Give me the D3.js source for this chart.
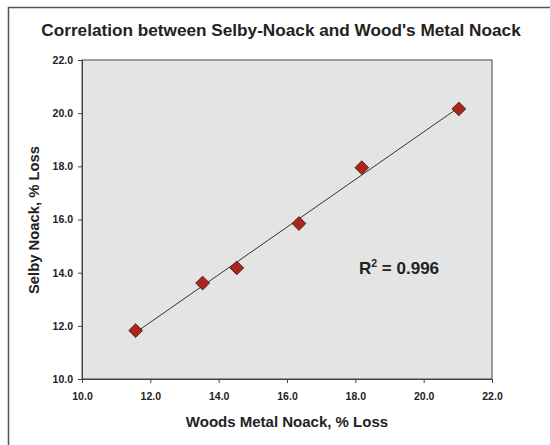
<!DOCTYPE html>
<html><head><meta charset="utf-8">
<script src="https://cdn.jsdelivr.net/npm/d3@7"></script>
<style>body{margin:0;background:#fff}svg{display:block;font-family:Arial,"Liberation Sans",sans-serif}</style>
</head><body><svg id="c" width="550" height="445"></svg>
<script>
const woodsNoack = [11.57, 13.53, 14.53, 16.35, 18.19, 21.03];
const selbyNoack = [11.82, 13.61, 14.18, 15.85, 17.95, 20.16];
const tickValues = [10, 12, 14, 16, 18, 20, 22];
const title = "Correlation between Selby-Noack and Wood's Metal Noack";
const xTitle = "Woods Metal Noack, % Loss";
const yTitle = "Selby Noack, % Loss";
const r2Label = "0.996";

const svg = d3.select("#c");
const L = 82, R = 492, T = 60, B = 379;
const x = d3.scaleLinear().domain([10, 22]).range([L, R]);
const y = d3.scaleLinear().domain([10, 22]).range([B, T]);

// outer frame
svg.append("path").attr("d", "M8.5,445 L8.5,7.5 L550,7.5").attr("fill", "none").attr("stroke", "#555").attr("stroke-width", 1.5);

svg.append("text").attr("x", 281).attr("y", 36).attr("text-anchor", "middle")
  .attr("font-size", 17.2).attr("font-weight", "bold").attr("fill", "#222").text(title);

svg.append("rect").attr("x", L).attr("y", T).attr("width", R - L).attr("height", B - T)
  .attr("fill", "#e4e4e4").attr("stroke", "#444").attr("stroke-width", 1);

const fmt = d3.format(".1f");
const gx = svg.append("g").attr("transform", `translate(0,${B})`)
  .call(d3.axisBottom(x).tickValues(tickValues).tickFormat(fmt).tickSize(4).tickPadding(10));
const gy = svg.append("g").attr("transform", `translate(${L},0)`)
  .call(d3.axisLeft(y).tickValues(tickValues).tickFormat(fmt).tickSize(4).tickPadding(5));
[gx, gy].forEach(g => {
  g.select(".domain").attr("stroke", "#444");
  g.selectAll(".tick line").attr("stroke", "#444");
  g.selectAll("text").attr("font-size", 10.5).attr("font-weight", "bold").attr("fill", "#222")
    .attr("font-family", "Arial, 'Liberation Sans', sans-serif");
});

// linear trend line
const n = woodsNoack.length;
const mx = d3.mean(woodsNoack), my = d3.mean(selbyNoack);
let sxy = 0, sxx = 0;
for (let i = 0; i < n; i++) { sxy += (woodsNoack[i] - mx) * (selbyNoack[i] - my); sxx += (woodsNoack[i] - mx) ** 2; }
const slope = sxy / sxx, icpt = my - slope * mx;
const x0 = d3.min(woodsNoack), x1 = d3.max(woodsNoack);
svg.append("line").attr("x1", x(x0)).attr("y1", y(icpt + slope * x0))
  .attr("x2", x(x1)).attr("y2", y(icpt + slope * x1)).attr("stroke", "#333").attr("stroke-width", 1);

svg.append("g").selectAll("path").data(woodsNoack).join("path")
  .attr("d", d3.symbol(d3.symbolSquare, 95)())
  .attr("transform", (d, i) => `translate(${x(d)},${y(selbyNoack[i])}) rotate(45)`)
  .attr("fill", "#a8261c").attr("stroke", "#4a1510").attr("stroke-width", 0.8);

const rt = svg.append("text").attr("x", 359).attr("y", 274).attr("font-size", 17)
  .attr("font-weight", "bold").attr("fill", "#222");
rt.append("tspan").text("R");
rt.append("tspan").attr("font-size", 10.5).attr("dy", -7).text("2");
rt.append("tspan").attr("dy", 7).text(" = " + r2Label);

svg.append("text").attr("x", 287).attr("y", 427).attr("text-anchor", "middle")
  .attr("font-size", 15).attr("font-weight", "bold").attr("fill", "#222").text(xTitle);
svg.append("text").attr("transform", "translate(39,220) rotate(-90)").attr("text-anchor", "middle")
  .attr("font-size", 14.8).attr("font-weight", "bold").attr("fill", "#222").text(yTitle);
</script></body></html>
